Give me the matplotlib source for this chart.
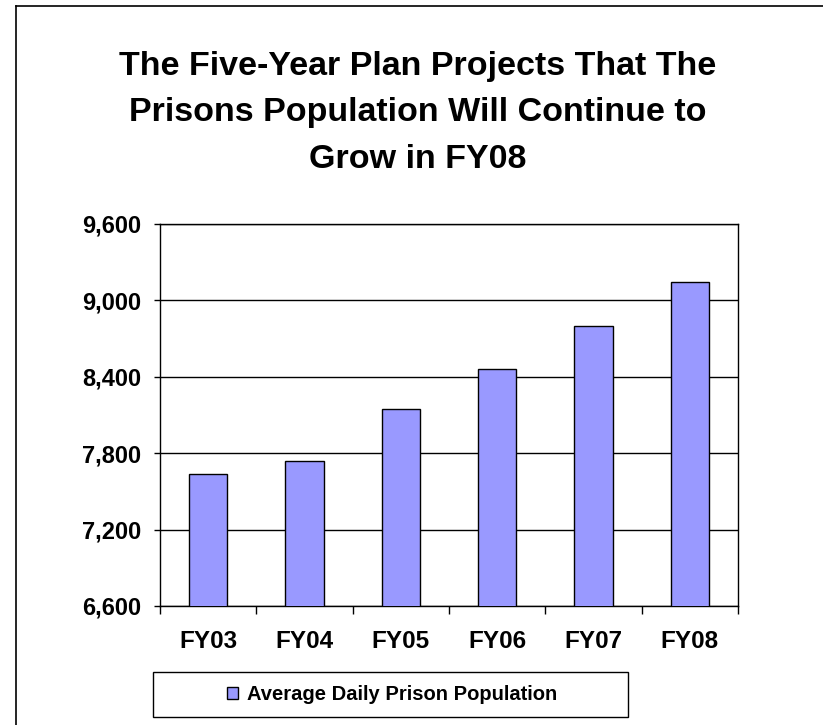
import matplotlib.pyplot as plt
from matplotlib.patches import Rectangle
from matplotlib.lines import Line2D
from matplotlib.ticker import FuncFormatter, FixedLocator

# data
years = ['FY03', 'FY04', 'FY05', 'FY06', 'FY07', 'FY08']
population = [7635, 7737, 8148, 8458, 8801, 9143]
y_ticks = [6600, 7200, 7800, 8400, 9000, 9600]
series_name = 'Average Daily Prison Population'
title_lines = ['The Five-Year Plan Projects That The',
               'Prisons Population Will Continue to',
               'Grow in FY08']

plt.rcParams['font.family'] = ['Liberation Sans', 'DejaVu Sans']
plt.rcParams['font.weight'] = 'bold'

fig = plt.figure(figsize=(8.23, 7.25), dpi=100, facecolor='white')
W, H = 823, 725

# chart area border (only left and top edges are visible)
fig.lines.append(Line2D([16 / W, 16 / W], [0, 1 - 6 / H], transform=fig.transFigure,
                        color='black', linewidth=1.2))
fig.lines.append(Line2D([16 / W, 1], [1 - 6 / H, 1 - 6 / H], transform=fig.transFigure,
                        color='black', linewidth=1.2))

# title
for i, line in enumerate(title_lines):
    fig.text(0.5 + 6 / W, 1 - (66 + i * 47) / H, line, ha='center', va='center',
             fontsize=24.5, fontweight='bold')

ax = fig.add_axes([160 / W, 1 - 606 / H, (738 - 160) / W, (606 - 224) / H])
x = list(range(len(years)))
bars = ax.bar(x, population, width=0.4, color='#9999FF', edgecolor='black',
              linewidth=1, zorder=3, label=series_name)

ax.set_ylim(6600, 9600)
ax.set_xlim(-0.5, len(years) - 0.5)
ax.set_yticks(y_ticks)
ax.yaxis.set_major_formatter(FuncFormatter(lambda v, p: f'{int(v):,}'))
ax.yaxis.grid(True, color='black', linewidth=1, zorder=0)

# category labels centred, ticks on boundaries
ax.set_xticks(x)
ax.set_xticklabels(years)
ax.tick_params(axis='x', which='major', length=0, pad=17, labelsize=17.5)
ax.xaxis.set_minor_locator(FixedLocator([i - 0.5 for i in range(len(years) + 1)]))
ax.tick_params(axis='x', which='minor', length=5.5, width=1, direction='out')
ax.tick_params(axis='y', length=4.5, width=1, direction='out', labelsize=17, pad=9)
for lab in ax.get_xticklabels() + ax.get_yticklabels():
    lab.set_fontweight('bold')

for s in ax.spines.values():
    s.set_linewidth(1)
    s.set_color('black')

# legend box
fig.patches.append(Rectangle((153 / W, 1 - 717 / H), (628 - 153) / W, (717 - 672) / H,
                             transform=fig.transFigure, fill=False, edgecolor='black', linewidth=1))
fig.legend(handles=[bars], labels=[series_name], loc='center',
           bbox_to_anchor=(392 / W, 1 - 695 / H), frameon=False,
           prop={'size': 14.5, 'weight': 'bold'}, handlelength=0.55, handleheight=0.55,
           handletextpad=0.45)

fig.savefig('out.png', dpi=100, facecolor='white')
